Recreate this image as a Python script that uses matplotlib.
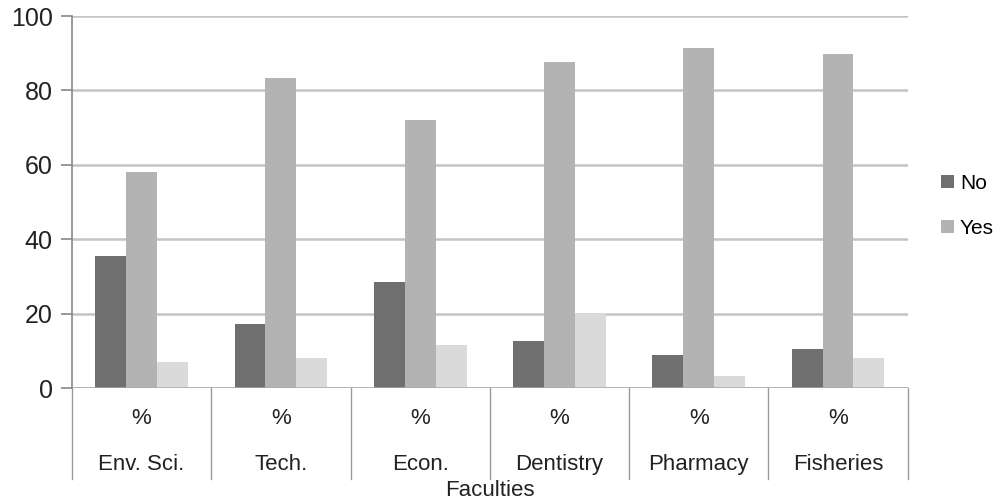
import matplotlib
matplotlib.use("Agg")
import matplotlib.pyplot as plt
import numpy as np

faculties = ["Env. Sci.", "Tech.", "Econ.", "Dentistry", "Pharmacy", "Fisheries"]
unit_row = ["%", "%", "%", "%", "%", "%"]
no_vals = [35.6, 17.1, 28.4, 12.7, 9.0, 10.5]
yes_vals = [58.2, 83.3, 72.1, 87.7, 91.3, 89.9]
other_vals = [6.9, 8.0, 11.6, 20.2, 3.3, 8.0]
y_ticks = [0, 20, 40, 60, 80, 100]
x_label = "Faculties"

plt.rcParams['font.family'] = ['Liberation Sans', 'DejaVu Sans']

fig = plt.figure(figsize=(10.04, 5.01), dpi=100)
ax = fig.add_axes([0.0717, 0.2255, 0.904 - 0.0717, 0.968 - 0.2255])

x = np.arange(len(faculties))
w = 0.222
b1 = ax.bar(x - w, no_vals, w, color="#6f6f6f", label="No", zorder=3)
b2 = ax.bar(x, yes_vals, w, color="#b3b3b3", label="Yes", zorder=3)
b3 = ax.bar(x + w, other_vals, w, color="#dadada", zorder=3)

ax.set_xlim(-0.5, len(faculties) - 0.5)
ax.set_ylim(0, 100)
ax.set_yticks(y_ticks)
ax.set_yticklabels([str(v) for v in y_ticks], fontsize=18, color="#222222")
ax.yaxis.grid(True, color="#c4c4c4", linewidth=1.8, zorder=0)
ax.set_xticks([])
ax.tick_params(axis='y', length=8, width=1.2, color="#888888", pad=6)
for s in ["top", "right", "bottom"]:
    ax.spines[s].set_visible(False)
ax.spines["left"].set_color("#888888")
ax.spines["left"].set_linewidth(1.2)
ax.axhline(0, color="#aaaaaa", linewidth=1.8, zorder=4)

trans = matplotlib.transforms.blended_transform_factory(ax.transData, ax.transAxes)
for xs in np.arange(-0.5, len(faculties), 1.0):
    ax.plot([xs, xs], [0, -0.245], transform=trans, color="#999999",
            linewidth=1.0, clip_on=False)
for i, (u, f) in enumerate(zip(unit_row, faculties)):
    ax.text(i, -0.082, u, transform=trans, ha="center", va="center",
            fontsize=16, color="#222222")
    ax.text(i, -0.205, f, transform=trans, ha="center", va="center",
            fontsize=16, color="#222222")
ax.text(2.5, -0.275, x_label, transform=trans, ha="center", va="center",
        fontsize=16, color="#222222")

leg = ax.legend(handles=[b1, b2], loc="center left", bbox_to_anchor=(1.04, 0.49),
                frameon=False, fontsize=15, handlelength=0.6, handleheight=0.6,
                handletextpad=0.3, labelspacing=1.25, borderpad=0, borderaxespad=0)

fig.savefig("out.png", dpi=100)
